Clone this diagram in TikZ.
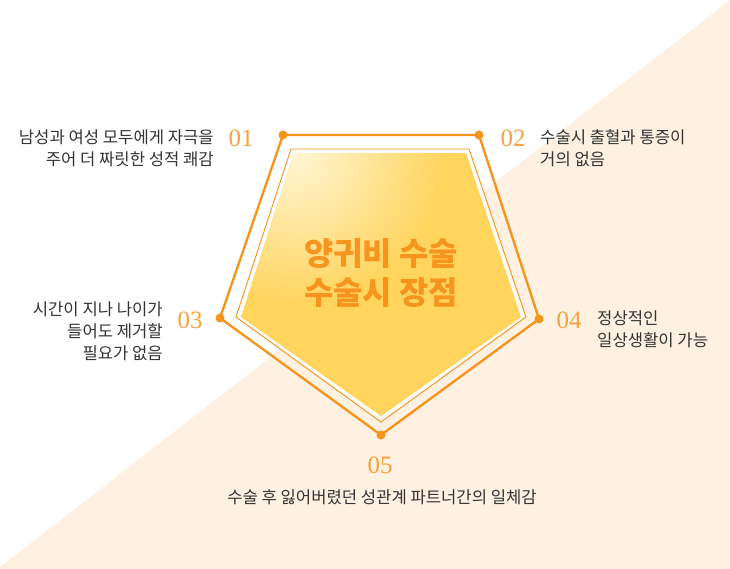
\documentclass[tikz,border=0pt]{standalone}
\usepackage{fontspec}
\usepackage{xcolor}
\usepackage{tikz}
\usetikzlibrary{positioning,shadings}
\newfontfamily\krfont{Noto Sans CJK KR}
\newfontfamily\numfont{Liberation Serif}
\definecolor{cream}{HTML}{FEF1E2}
\definecolor{lineorange}{HTML}{F7941D}
\definecolor{numorange}{HTML}{F7A23A}
\definecolor{textgray}{HTML}{333333}
\definecolor{paleyellow}{HTML}{FFF6D6}
\definecolor{deepyellow}{HTML}{FFD55E}

\begin{document}
\begin{tikzpicture}[x=0.03cm,y=-0.03cm,
  dot/.style={circle,fill=lineorange,inner sep=0pt,minimum size=0.27cm},
  num/.style={font=\numfont\fontsize{21.3}{21.3}\selectfont,text=numorange,inner sep=0pt},
  desc/.style={font=\krfont\fontsize{14.2}{18.8}\selectfont,text=textgray,inner sep=0pt}]
 \useasboundingbox (0,0) rectangle (730,569);
 \fill[cream] (730,0) -- (730,569) -- (0,569) -- (0,567) -- cycle;
 \fill[white,opacity=0.75] (291,149) -- (469,149) -- (526,317) -- (381,422) -- (236,317) -- cycle;
 \draw[lineorange,line width=0.8pt] (291,149) -- (469,149) -- (526,317) -- (381,422) -- (236,317) -- cycle;
 \begin{scope}
  \clip (294,153) -- (466,153) -- (521,317) -- (381,416) -- (241,317) -- cycle;
  \fill[deepyellow] (241,153) rectangle (521,416);
  \shade[inner color=paleyellow,outer color=deepyellow] (294,153) circle (150);
 \end{scope}
 \foreach \n/\x/\y in {1/283/135, 2/479/135, 4/539/319, 5/381/435, 3/220/318}
   \node[dot] (d\n) at (\x,\y) {};
 \draw[lineorange,line width=2pt,line join=round] (d1.center) -- (d2.center) -- (d4.center) -- (d5.center) -- (d3.center) -- cycle;
 \foreach \n/\x/\y in {1/241/138, 2/513/138, 3/190/320, 4/569/320, 5/380/465}
   \node[num] (n\n) at (\x,\y) {0\n};
 \node[font=\krfont\bfseries\fontsize{27.2}{33.3}\selectfont,text=lineorange,align=center] (title) at (381,273) {양귀비 수술\\수술시 장점};
 \node[desc,align=right,anchor=east] (t1) at (214,148) {남성과 여성 모두에게 자극을\\주어 더 짜릿한 성적 쾌감};
 \node[desc,align=left,anchor=west] (t2) at (540,148) {수술시 출혈과 통증이\\거의 없음};
 \node[desc,align=right,anchor=east] (t3) at (163,331) {시간이 지나 나이가\\들어도 제거할\\필요가 없음};
 \node[desc,align=left,anchor=west] (t4) at (597,329) {정상적인\\일상생활이 가능};
 \node[desc] (t5) at (382,497) {수술 후 잃어버렸던 성관계 파트너간의 일체감};
\end{tikzpicture}
\end{document}
